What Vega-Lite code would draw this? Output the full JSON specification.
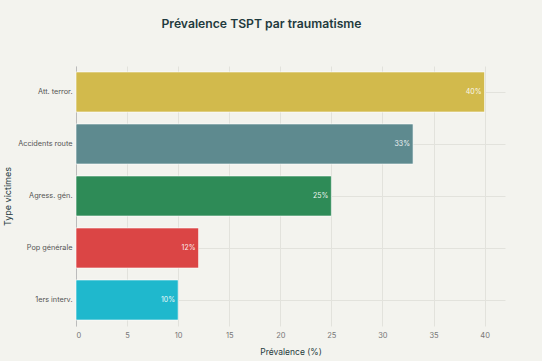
{
  "$schema": "https://vega.github.io/schema/vega-lite/v6.json",
  "width": 429,
  "height": 260,
  "autosize": {"type": "none"},
  "padding": {"left": 76, "top": 66, "right": 37, "bottom": 35},
  "background": "#f3f3ee",
  "config": {
    "view": {"stroke": null},
    "font": "Inter",
    "axis": {"labelFont": "Inter", "titleFont": "Inter"}
  },
  "title": {
    "text": "Prévalence TSPT par traumatisme",
    "fontSize": 12.2,
    "fontWeight": 600,
    "color": "#1f3a3d",
    "anchor": "middle",
    "dx": -29,
    "offset": 36
  },
  "data": {
    "values": [
      {"type": "Att. terror.", "value": 40, "label": "40%"},
      {"type": "Accidents route", "value": 33, "label": "33%"},
      {"type": "Agress. gén.", "value": 25, "label": "25%"},
      {"type": "Pop générale", "value": 12, "label": "12%"},
      {"type": "1ers interv.", "value": 10, "label": "10%"}
    ]
  },
  "encoding": {
    "y": {
      "field": "type",
      "type": "nominal",
      "sort": null,
      "scale": {"paddingInner": 0.23, "paddingOuter": 0.115},
      "axis": {
        "title": "Type victimes",
        "titleFontSize": 9,
        "titleFontWeight": "normal",
        "titleColor": "#1f3a3d",
        "titleX": -69,
        "titleY": 130,
        "titleAngle": -90,
        "titleBaseline": "middle",
        "titleAlign": "center",
        "labelFontSize": 7.3,
        "labelColor": "#555555",
        "labelPadding": 4,
        "ticks": false,
        "domain": true,
        "domainColor": "#bbbbbb",
        "grid": true,
        "gridColor": "#e2e2dc",
        "bandPosition": 0.5
      }
    },
    "x": {
      "field": "value",
      "type": "quantitative",
      "scale": {"domain": [0, 42], "nice": false},
      "axis": {
        "title": "Prévalence (%)",
        "titleFontSize": 8.5,
        "titleFontWeight": "normal",
        "titleColor": "#1f3a3d",
        "titlePadding": 9,
        "labelFontSize": 7.5,
        "labelColor": "#777777",
        "labelPadding": 5,
        "values": [0, 5, 10, 15, 20, 25, 30, 35, 40],
        "ticks": false,
        "domain": false,
        "grid": true,
        "gridColor": "#e2e2dc"
      }
    }
  },
  "layer": [
    {
      "mark": {"type": "bar", "stroke": "#ffffff", "strokeWidth": 1, "strokeOpacity": 0.6},
      "encoding": {
        "color": {
          "field": "type",
          "type": "nominal",
          "legend": null,
          "scale": {
            "domain": ["Att. terror.", "Accidents route", "Agress. gén.", "Pop générale", "1ers interv."],
            "range": ["#D2BA4C", "#5E8A8F", "#2E8B57", "#DB4545", "#1FB8CD"]
          }
        }
      }
    },
    {
      "mark": {"type": "text", "align": "right", "dx": -3, "fontSize": 7, "color": "#ffffff", "opacity": 0.9},
      "encoding": {"text": {"field": "label"}}
    }
  ]
}
